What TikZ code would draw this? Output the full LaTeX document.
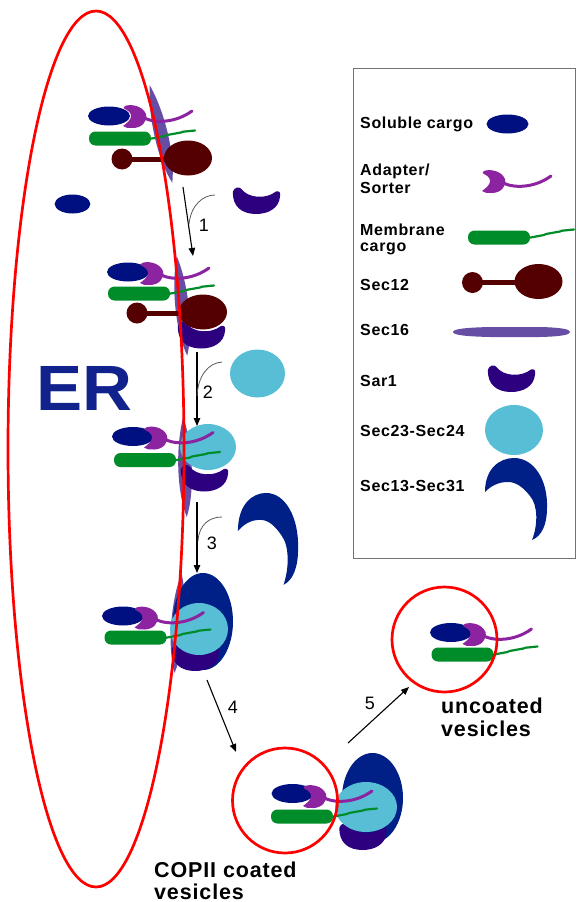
\documentclass[tikz,border=0pt]{standalone}
\usepackage{fontspec}
\setmainfont{Liberation Sans}
\newfontfamily\tracked{Liberation Sans}[LetterSpace=4]
\usetikzlibrary{arrows.meta}

\definecolor{solblue}{RGB}{0,16,128}
\definecolor{coatblue}{RGB}{0,32,135}
\definecolor{sarviolet}{RGB}{45,0,128}
\definecolor{adpurple}{RGB}{140,35,160}
\definecolor{memgreen}{RGB}{0,140,40}
\definecolor{secmaroon}{RGB}{85,0,0}
\definecolor{secsixteen}{RGB}{102,78,165}
\definecolor{secsky}{RGB}{88,190,214}
\definecolor{erblue}{RGB}{18,34,140}
\definecolor{membred}{RGB}{255,0,0}

\tikzset{
  % soluble cargo: plain navy ellipse
  solcargo/.pic={\fill[solblue] (0,0) ellipse [x radius=21, y radius=9.5];},
  % adapter/sorter: notched rounded body with a curled tail
  adaptor/.pic={
    \fill[adpurple] (-10,-10) .. controls (-5,-12) and (7,-11) .. (11,-2)
      .. controls (13,6) and (6,12) .. (-2,12)
      .. controls (-7,12) and (-10,12) .. (-12,10)
      .. controls (-8,7) and (-4,4) .. (-4,0)
      .. controls (-4,-4) and (-8,-6) .. (-10,-7)
      .. controls (-12,-8) .. cycle;
    \draw[adpurple, line width=3, line cap=round] (9,2) .. controls (22,8) and (42,6) .. (57,-5);
  },
  % membrane cargo: rounded bar with a thin transmembrane tail
  memcargo/.pic={
    \fill[memgreen, rounded corners=6.5] (-31,-7) rectangle (31,7);
    \draw[memgreen, line width=2.2, line join=round, line cap=round]
      (29,0.5) -- (45,-2.5) -- (47,-3.5) -- (61,-6) -- (63,-6.8) -- (75,-8);
  },
  % Sec12: small head, stalk and large globular domain
  sectwelve/.pic={
    \fill[secmaroon] (0,0) circle [radius=10.5];
    \fill[secmaroon] (0,-2.5) rectangle (50,2.5);
    \fill[secmaroon] (66,-1) ellipse [x radius=24, y radius=17.5];
  },
  % Sec16: upright spindle on the membrane
  sixteen/.pic={
    \fill[secsixteen] (0,-50) .. controls (-9,-20) and (-9,25) .. (0,50)
      .. controls (9,25) and (9,-20) .. cycle;
  },
  % Sar1: bowl-shaped crescent
  sarone/.pic={
    \fill[sarviolet] (-23,-9) .. controls (-22,-13) and (-17,-14) .. (-15,-12)
      .. controls (-8,-2) and (10,-1) .. (20,-9)
      .. controls (23,-10) and (25,-8) .. (24,-4)
      .. controls (23,8) and (12,13.5) .. (0,13.5)
      .. controls (-14,13.5) and (-24,6) .. cycle;
  },
  % Sec13-Sec31: hooked crescent
  secthirteen/.pic={
    \fill[coatblue] (-31,-8) .. controls (-31,-32) and (-16,-42) .. (-2,-42)
      .. controls (18,-42) and (32,-20) .. (31,8)
      .. controls (31,24) and (26,36) .. (16,40)
      .. controls (22,25) and (22,5) .. (14,-4)
      .. controls (7,-13) and (0,-18) .. (-8,-18)
      .. controls (-18,-18) and (-25,-14) .. cycle;
  },
  legtext/.style={font=\tracked\bfseries\fontsize{16}{18}\selectfont, anchor=base west, inner sep=0},
  biglabel/.style={font=\tracked\bfseries\fontsize{21.5}{23}\selectfont, anchor=base west, inner sep=0},
  numlab/.style={font=\fontsize{18}{18}\selectfont, inner sep=0},
  flow/.style={draw=black, line width=1.1, -{Triangle[length=8pt, width=6.5pt]}},
  joinline/.style={draw=black!65, line width=0.8},
  membrane/.style={draw=membred, line width=2.7},
}

\begin{document}
\begin{tikzpicture}[x=1pt, y=-1pt]
\useasboundingbox (0,0) rectangle (576,902);

% legend frame
\draw[black!55, line width=1] (353.5,68.5) rectangle (575.5,558);

% ---- budding site 1: Sec12 at the exit site
\pic[rotate=13] at (161,134) {sixteen};
\pic at (109,116) {solcargo};
\pic at (135,116) {adaptor};
\pic at (120,138.5) {memcargo};
\pic at (122,159) {sectwelve};

% ---- budding site 2: Sar1 recruited
\pic[rotate=6] at (182,306) {sixteen};
\pic at (201,335) {sarone};
\pic at (137,313) {sectwelve};
\pic at (128,272) {solcargo};
\pic at (152,273) {adaptor};
\pic at (139,293.5) {memcargo};

% ---- budding site 3: Sec23-Sec24 bound
\pic[rotate=2] at (185,467) {sixteen};
\pic at (204,478) {sarone};
\fill[secsky] (208,447) ellipse [x radius=28, y radius=23];
\pic at (133,436.5) {solcargo};
\pic at (156,437.5) {adaptor};
\pic at (145,460) {memcargo};

% ---- budding site 4: Sec13-Sec31 outer coat
\pic[rotate=-4] at (178,623) {sixteen};
\fill[coatblue] (203,621.5) ellipse [x radius=30, y radius=48.5];
\pic at (195,657.5) {sarone};
\fill[secsky] (199,629) ellipse [x radius=29, y radius=26];
\pic at (123,616) {solcargo};
\pic at (146.5,617.5) {adaptor};
\pic at (135.5,637.5) {memcargo};

% ---- free components
\pic[xscale=0.85] at (72.5,204) {solcargo};
\pic at (256,200.5) {sarone};
\fill[secsky] (257.5,373.5) ellipse [x radius=27.5, y radius=24];
\pic[xscale=0.97, yscale=1.12] at (268,540) {secthirteen};

% ---- coated vesicle
\fill[coatblue] (372.5,798) ellipse [x radius=30.5, y radius=45];
\pic at (362.5,836.5) {sarone};
\fill[secsky] (366,807) ellipse [x radius=31, y radius=25];
\pic at (292.5,793.5) {solcargo};
\pic at (315,796) {adaptor};
\pic at (302,816.5) {memcargo};

% ---- uncoated vesicle
\pic at (451,632.5) {solcargo};
\pic at (474.5,634) {adaptor};
\pic at (462.5,654.5) {memcargo};

% ---- membranes
\draw[membrane] (96,449) ellipse [x radius=88, y radius=438];
\draw[membrane] (285,800.5) circle [radius=52.5];
\draw[membrane] (444.5,639.5) circle [radius=52.5];

% ---- legend symbols
\pic at (507.5,124) {solcargo};
\pic at (494,181) {adaptor};
\pic at (499,237.5) {memcargo};
\pic at (472.5,282.5) {sectwelve};
\fill[secsixteen] (453,332) .. controls (453,328.5) and (470,327.5) .. (490,327) -- (540,327)
  .. controls (560,327.5) and (570,329) .. (570,332)
  .. controls (570,335) and (560,336.5) .. (540,337) -- (490,337)
  .. controls (470,336.5) and (453,335.5) .. cycle;
\pic at (511,378.5) {sarone};
\fill[secsky] (514,430) ellipse [x radius=29, y radius=25];
\pic at (516,500) {secthirteen};

% ---- legend text
\node[legtext] (lsol) at (360,128) {Soluble cargo};
\node[legtext] (lad1) at (360,175) {Adapter/};
\node[legtext] (lad2) at (360,193) {Sorter};
\node[legtext] (lmem1) at (360,235) {Membrane};
\node[legtext] (lmem2) at (360,251) {cargo};
\node[legtext] (l12) at (360,290) {Sec12};
\node[legtext] (l16) at (360,335) {Sec16};
\node[legtext] (lsar) at (360,386) {Sar1};
\node[legtext] (l2324) at (360,436) {Sec23-Sec24};
\node[legtext] (l1331) at (360,491) {Sec13-Sec31};

% ---- labels
\node[font=\bfseries\fontsize{64}{64}\selectfont, text=erblue, anchor=base west, inner sep=0] (er) at (36,410) {\scalebox{1.08}[1]{ER}};
\node[biglabel] (unc1) at (441,713) {uncoated};
\node[biglabel] (unc2) at (441,736) {vesicles};
\node[biglabel] (cop1) at (154,877) {COPII coated};
\node[biglabel] (cop2) at (154,899) {vesicles};

% ---- steps
\coordinate (a1s) at (183,187);  \coordinate (a1e) at (193,256);
\coordinate (c1s) at (189,224);  \coordinate (c1e) at (215,195);
\draw[flow] (a1s) -- (a1e);
\draw[joinline] (c1s) .. controls (191,205) and (203,195) .. (c1e);

\coordinate (a2s) at (197,352);  \coordinate (a2e) at (197,426);
\coordinate (c2s) at (197,396);  \coordinate (c2e) at (222,362);
\draw[flow] (a2s) -- (a2e);
\draw[joinline] (c2s) .. controls (198,376) and (208,363) .. (c2e);

\coordinate (a3s) at (197,502);  \coordinate (a3e) at (197,573);
\coordinate (c3s) at (198,541);  \coordinate (c3e) at (222,517);
\draw[flow] (a3s) -- (a3e);
\draw[joinline] (c3s) .. controls (199,525) and (209,517) .. (c3e);

\coordinate (a4s) at (207,680);  \coordinate (a4e) at (236,752);
\draw[flow] (a4s) -- (a4e);
\coordinate (a5s) at (348,743);  \coordinate (a5e) at (409,687);
\draw[flow] (a5s) -- (a5e);

\node[numlab] (n1) at (204,225) {1};
\node[numlab] (n2) at (208,392) {2};
\node[numlab] (n3) at (212,543) {3};
\node[numlab] (n4) at (233,707) {4};
\node[numlab] (n5) at (370,703) {5};
\end{tikzpicture}
\end{document}
